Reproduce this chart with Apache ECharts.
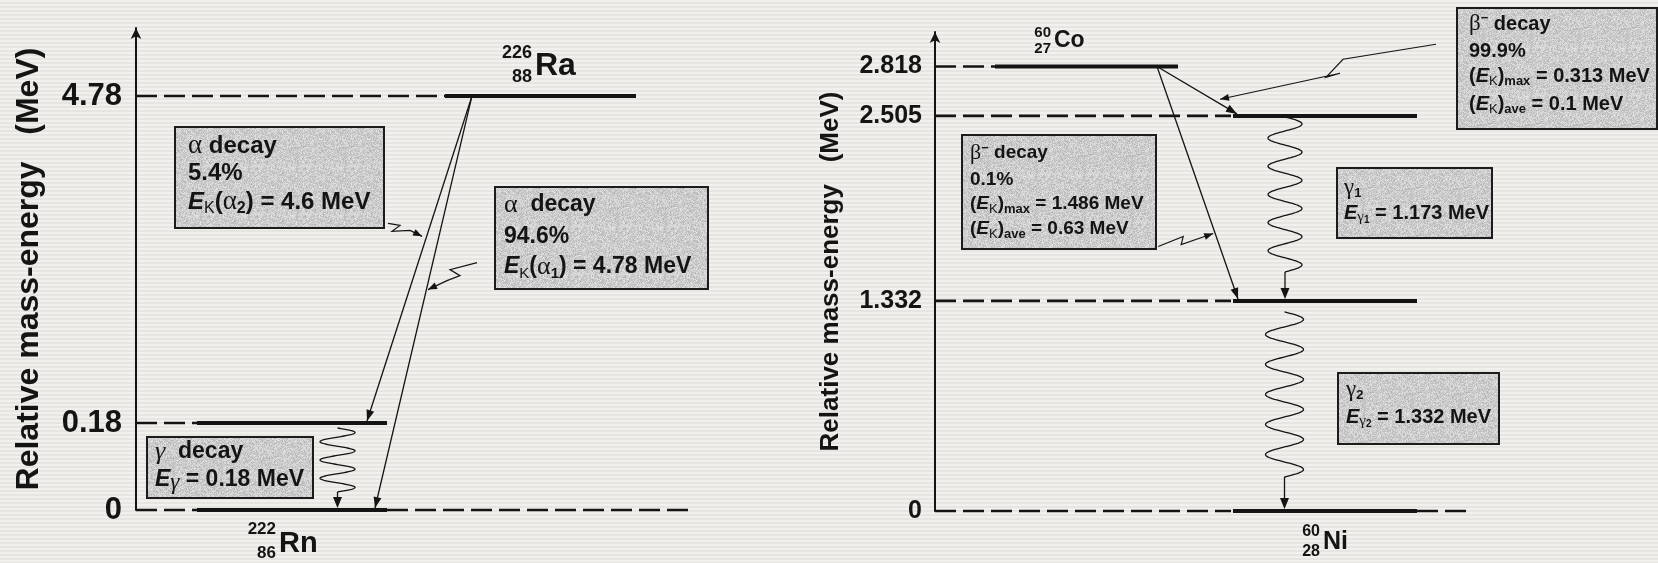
<!DOCTYPE html>
<html>
<head>
<meta charset="utf-8">
<title>Decay schemes: Ra-226 and Co-60</title>
<script src="https://cdn.jsdelivr.net/npm/echarts@6/dist/echarts.min.js"></script>
<style>
  html, body { margin: 0; padding: 0; }
  body {
    width: 1658px; height: 563px; overflow: hidden;
    background-color: #eeece8;
    background-image: repeating-linear-gradient(to bottom, #f2f0ec 0px, #f2f0ec 2px, #e7e5e1 2px, #e7e5e1 4px);
  }
  #chart { width: 1658px; height: 563px; }
</style>
</head>
<body>
<div id="chart"></div>
<script>
// ---- Ra-226 -> Rn-222 (alpha decay) ----
const raLevelEnergies = [4.78, 0.18, 0];      // MeV: Ra-226 ground, Rn-222 excited, Rn-222 ground
const raTickLabels    = ['4.78', '0.18', '0'];
const raTransFrom     = [0, 0, 1];             // level index: alpha2, alpha1, gamma
const raTransTo       = [1, 2, 2];
const raAlphaBranches = ['5.4%', '94.6%'];     // alpha2, alpha1
const raAlphaEnergies = [4.6, 4.78];           // E_K(alpha2), E_K(alpha1), MeV

// ---- Co-60 -> Ni-60 (beta-minus decay) ----
const coLevelEnergies = [2.818, 2.505, 1.332, 0];
const coTickLabels    = ['2.818', '2.505', '1.332', '0'];
const coTransFrom     = [0, 0, 1, 2];          // beta (99.9%), beta (0.1%), gamma1, gamma2
const coTransTo       = [1, 2, 2, 3];
const coBetaBranches  = ['99.9%', '0.1%'];
const coBetaMax       = [0.313, 1.486];        // (E_K)max, MeV
const coBetaAve       = [0.1, 0.63];           // (E_K)ave, MeV
const coGammaEnergies = [1.173, 1.332];        // E_gamma1, E_gamma2, MeV

// Broken energy scale for the radium scheme: the span below 0.18 MeV is stretched.
const RA_BREAK = 0.18, RA_STRETCH = 6.8;
const raScale = e => (e <= RA_BREAK ? e * RA_STRETCH : RA_BREAK * RA_STRETCH + (e - RA_BREAK));
const coScale = e => e;

const SANS = "'Liberation Sans', Arial, sans-serif";
const SERIF = "'Liberation Serif', 'Times New Roman', serif";
const INK = '#141414';
const TIP_INSET = 2;

// Horizontal layout of every level (x measured in px from the energy axis)
const raLevelLayout = [
  { dashed: [[0, 309]], solid: [309, 500],
    nuclide: { sym: 'Ra', A: '226', Z: '88', x: 399, dy: -30, size: 32, small: 18, aDy: -43, zDy: -19 } },
  { dashed: [[0, 61]], solid: [61, 251] },
  { dashed: [[0, 61], [251, 554]], solid: [61, 251],
    nuclide: { sym: 'Rn', A: '222', Z: '86', x: 143, dy: 34, size: 29, small: 17, aDy: 19, zDy: 43 } }
];
const coLevelLayout = [
  { dashed: [[0, 60]], solid: [60, 243],
    nuclide: { sym: 'Co', A: '60', Z: '27', x: 119, dy: -26, size: 23, small: 15, aDy: -34, zDy: -18 } },
  { dashed: [[0, 296]], solid: [298, 482] },
  { dashed: [[0, 296]], solid: [298, 482] },
  { dashed: [[0, 296], [482, 534]], solid: [298, 482],
    nuclide: { sym: 'Ni', A: '60', Z: '28', x: 388, dy: 31, size: 25, small: 16, aDy: 21, zDy: 41 } }
];

// Transition drawing: straight decay arrows, wavy gamma lines, and callout pointers
const raTransLayout = [
  { kind: 'arrow', x0: 336, x1: 231,
    callout: { t: 0.432, dx: -4.6, dy: 0, tail: [[-34, -13], [-22, -11], [-30, -5], [-12, -6]] } },
  { kind: 'arrow', x0: 336, x1: 239,
    callout: { t: 0.47, dx: 1.6, dy: 0, tail: [[49, -27], [22, -20], [32, -14], [19, -9]] } },
  { kind: 'wave', x: 201.5, gapTop: 5, tail: 18, cycles: 3.5, amp: 17.5 }
];
const coTransLayout = [
  { kind: 'arrow', x0: 222, x1: 302,
    callout: { t: 0.7875, dx: 0, dy: -4.6, tail: [[216, -55], [123, -40], [106, -22], [120, -26]] } },
  { kind: 'arrow', x0: 222, x1: 303,
    callout: { t: 0.7186, dx: -2, dy: 0, tail: [[-55, 13], [-30, 3], [-32, 11]] } },
  { kind: 'wave', x: 350, gapTop: 1, tail: 29, cycles: 5.5, amp: 17 },
  { kind: 'wave', x: 349.5, gapTop: 11, tail: 34, cycles: 5.5, amp: 19 }
];

function arrowHead(tip, from, len, half) {
  const dx = tip[0] - from[0], dy = tip[1] - from[1];
  const d = Math.hypot(dx, dy) || 1;
  const ux = dx / d, uy = dy / d;
  const bx = tip[0] - ux * len, by = tip[1] - uy * len;
  return { type: 'polygon',
    shape: { points: [[tip[0], tip[1]], [bx - uy * half, by + ux * half], [bx + uy * half, by - ux * half]] },
    style: { fill: INK } };
}

function seg(p, q, width, dash) {
  return { type: 'line', shape: { x1: p[0], y1: p[1], x2: q[0], y2: q[1] },
    style: { stroke: INK, lineWidth: width, lineDash: dash || null, lineCap: 'butt' } };
}

function renderLevels(layout, scale) {
  return function (params, api) {
    const L = layout[params.dataIndex];
    const yv = scale(api.value(1));
    const children = [];
    L.dashed.forEach(([a, b]) => children.push(seg(api.coord([a, yv]), api.coord([b, yv]), 2.6, [21, 7])));
    children.push(seg(api.coord([L.solid[0], yv]), api.coord([L.solid[1], yv]), 4));
    if (L.nuclide) {
      const n = L.nuclide, p = api.coord([n.x, yv]);
      const font = (size) => ({ fontSize: size, fontWeight: 'bold', fontFamily: SANS, fill: INK });
      children.push({ type: 'text', x: p[0], y: p[1] + n.dy,
        style: Object.assign({ text: n.sym, align: 'left', verticalAlign: 'middle' }, font(n.size)) });
      children.push({ type: 'text', x: p[0] - 3, y: p[1] + n.aDy,
        style: Object.assign({ text: n.A, align: 'right', verticalAlign: 'middle' }, font(n.small)) });
      children.push({ type: 'text', x: p[0] - 3, y: p[1] + n.zDy,
        style: Object.assign({ text: n.Z, align: 'right', verticalAlign: 'middle' }, font(n.small)) });
    }
    return { type: 'group', children };
  };
}

function renderTransitions(layout, scale) {
  return function (params, api) {
    const L = layout[params.dataIndex];
    const yFrom = scale(api.value(0)), yTo = scale(api.value(1));
    const children = [];
    if (L.kind === 'arrow') {
      const p0 = api.coord([L.x0, yFrom]);
      const q = api.coord([L.x1, yTo]);
      const p1 = [q[0], q[1] - TIP_INSET];
      children.push(seg(p0, p1, 1.3));
      children.push(arrowHead(p1, p0, 11, 4));
      if (L.callout) {
        const c = L.callout;
        const tip = [p0[0] + (p1[0] - p0[0]) * c.t + c.dx, p0[1] + (p1[1] - p0[1]) * c.t + c.dy];
        const pts = c.tail.map(([a, b]) => [tip[0] + a, tip[1] + b]);
        pts.push(tip);
        children.push({ type: 'polyline', shape: { points: pts },
          style: { stroke: INK, lineWidth: 1.2, fill: null, lineJoin: 'miter' } });
        children.push(arrowHead(tip, pts[pts.length - 2], 9, 3.5));
      }
    } else {
      const top = api.coord([L.x, yFrom]);
      const bot = api.coord([L.x, yTo]);
      const y0 = top[1] + L.gapTop;
      const y1 = bot[1] - L.tail;
      const tipY = bot[1] - TIP_INSET;
      const pts = [];
      const n = 240;
      for (let i = 0; i <= n; i++) {
        const s = i / n;
        pts.push([top[0] + L.amp * Math.sin(2 * Math.PI * L.cycles * s), y0 + (y1 - y0) * s]);
      }
      children.push({ type: 'polyline', shape: { points: pts },
        style: { stroke: INK, lineWidth: 1.3, fill: null } });
      children.push(seg([top[0], y1], [top[0], tipY - 6], 1.3));
      children.push(arrowHead([top[0], tipY], [top[0], y1], 11, 4.5));
    }
    return { type: 'group', children };
  };
}

// Fine grey grain for the annotation boxes (deterministic hash grain)
function makeStipple() {
  const S = 48;
  const c = document.createElement('canvas');
  c.width = S; c.height = S;
  const ctx = c.getContext('2d');
  const img = ctx.createImageData(S, S);
  for (let i = 0; i < S * S; i++) {
    let h = Math.imul(i + 17, 2654435761) >>> 0;
    h ^= h >>> 15; h = Math.imul(h, 2246822519) >>> 0; h ^= h >>> 13;
    const v = 204 + (h % 24);
    img.data[i * 4] = v; img.data[i * 4 + 1] = v; img.data[i * 4 + 2] = v; img.data[i * 4 + 3] = 255;
  }
  ctx.putImageData(img, 0, 0);
  return c;
}
const stipple = { image: makeStipple(), repeat: 'repeat' };

function richSet(s) {
  const sub = Math.round(s * 0.66);
  const L = Math.round(s * 1.2);
  return {
    g:   { fontSize: s + 3, fontFamily: SERIF, fontWeight: 'normal', fill: INK },
    gi:  { fontSize: s + 3, fontFamily: SERIF, fontWeight: 'normal', fontStyle: 'italic', fill: INK },
    ei:  { fontSize: s, fontFamily: SANS, fontWeight: 'bold', fontStyle: 'italic', fill: INK },
    sk:  { fontSize: sub, fontFamily: SANS, fontWeight: 'normal', fill: INK, verticalAlign: 'bottom', lineHeight: Math.round(L * 0.4) },
    sn:  { fontSize: sub, fontFamily: SANS, fontWeight: 'bold', fill: INK, verticalAlign: 'bottom', lineHeight: Math.round(L * 0.4) },
    sm:  { fontSize: sub, fontFamily: SANS, fontWeight: 'bold', fill: INK, verticalAlign: 'bottom', lineHeight: Math.round(L * 0.3) },
    gs:  { fontSize: s, fontFamily: SERIF, fontWeight: 'normal', fontStyle: 'italic', fill: INK, verticalAlign: 'bottom', lineHeight: Math.round(L * 0.75) },
    gu:  { fontSize: sub + 2, fontFamily: SERIF, fontWeight: 'normal', fill: INK, verticalAlign: 'bottom', lineHeight: Math.round(L * 0.45) },
    ss:  { fontSize: Math.round(sub * 0.8), fontFamily: SANS, fontWeight: 'bold', fill: INK, verticalAlign: 'bottom', lineHeight: Math.round(L * 0.2) },
    sup: { fontSize: sub, fontFamily: SANS, fontWeight: 'bold', fill: INK, verticalAlign: 'top', lineHeight: Math.round(L * 0.35) }
  };
}

const raGammaEnergy = +(raLevelEnergies[1] - raLevelEnergies[2]).toFixed(3);

// Annotation boxes: frame, text size and the centre line of every text row
const boxes = [
  { x: 175, y: 127, w: 209, h: 101, size: 24, tx: 188, lines: [
    [146, '{g|α} decay'],
    [173, raAlphaBranches[0]],
    [202, `{ei|E}{sk|K}({g|α}{sn|2}) = ${raAlphaEnergies[0]} MeV`]] },
  { x: 495, y: 187, w: 213, h: 102, size: 23, tx: 504, lines: [
    [205, '{g|α}  decay'],
    [237, raAlphaBranches[1]],
    [267, `{ei|E}{sk|K}({g|α}{sn|1}) = ${raAlphaEnergies[1]} MeV`]] },
  { x: 147, y: 437, w: 166, h: 61, size: 23, tx: 155, lines: [
    [452, '{gi|γ}  decay'],
    [480, `{ei|E}{gs|γ} = ${raGammaEnergy} MeV`]] },
  { x: 962, y: 135, w: 194, h: 114, size: 19, tx: 970, lines: [
    [153, '{g|β}{sup|−} decay'],
    [180, coBetaBranches[1]],
    [204, `({ei|E}{sk|K}){sm|max} = ${coBetaMax[1]} MeV`],
    [229, `({ei|E}{sk|K}){sm|ave} = ${coBetaAve[1]} MeV`]] },
  { x: 1457, y: 8, w: 200, h: 121, size: 20, tx: 1469, lines: [
    [24, '{g|β}{sup|−} decay'],
    [51, coBetaBranches[0]],
    [76, `({ei|E}{sk|K}){sm|max} = ${coBetaMax[0]} MeV`],
    [104, `({ei|E}{sk|K}){sm|ave} = ${coBetaAve[0]} MeV`]] },
  { x: 1337, y: 168, w: 155, h: 70, size: 20, tx: 1344, lines: [
    [188, '{g|γ}{sn|1}'],
    [213, `{ei|E}{gu|γ}{ss|1} = ${coGammaEnergies[0]} MeV`]] },
  { x: 1338, y: 373, w: 161, h: 71, size: 20, tx: 1346, lines: [
    [390, '{g|γ}{sn|2}'],
    [417, `{ei|E}{gu|γ}{ss|2} = ${coGammaEnergies[1]} MeV`]] }
];

function makeBox(b) {
  const children = [{ type: 'rect', shape: { x: 0, y: 0, width: b.w, height: b.h },
    style: { fill: stipple, stroke: '#1c1c1c', lineWidth: 2 } }];
  b.lines.forEach(([cy, text]) => {
    children.push({ type: 'text', x: b.tx - b.x, y: cy - b.y,
      style: { text, rich: richSet(b.size), align: 'left', verticalAlign: 'middle',
        lineHeight: Math.round(b.size * 1.2), fontSize: b.size, fontWeight: 'bold', fontFamily: SANS, fill: INK } });
  });
  return { type: 'group', x: b.x, y: b.y, children };
}

function tickLookup(levels, labels, scale) {
  return function (v) {
    for (let i = 0; i < levels.length; i++) {
      if (Math.abs(scale(levels[i]) - v) < 1e-6) return labels[i];
    }
    return '';
  };
}

function energyAxis(gridIndex, max, levels, labels, scale, labelSize, margin, nameSize, nameGap) {
  return {
    type: 'value', gridIndex, min: 0, max, position: 'left',
    axisLine: { show: true, onZero: false, symbol: ['none', 'arrow'], symbolSize: [8, 11],
      lineStyle: { color: INK, width: 2 } },
    axisTick: { show: false },
    splitLine: { show: false },
    axisLabel: {
      customValues: levels.map(scale),
      formatter: tickLookup(levels, labels, scale),
      fontSize: labelSize, fontWeight: 'bold', fontFamily: SANS, color: INK, margin
    },
    name: 'Relative mass-energy   (MeV)',
    nameLocation: 'middle',
    nameGap,
    nameTextStyle: { fontSize: nameSize, fontWeight: 'bold', fontFamily: SANS, color: INK }
  };
}

const chart = echarts.init(document.getElementById('chart'), null, { renderer: 'canvas' });
chart.setOption({
  animation: false,
  backgroundColor: 'transparent',
  grid: [
    { left: 136, top: 28, width: 560, height: 482 },
    { left: 935, top: 32, width: 540, height: 479 }
  ],
  xAxis: [
    { type: 'value', gridIndex: 0, min: 0, max: 560, show: false },
    { type: 'value', gridIndex: 1, min: 0, max: 540, show: false }
  ],
  yAxis: [
    energyAxis(0, 6.78, raLevelEnergies, raTickLabels, raScale, 31, 14, 32, 91),
    energyAxis(1, 3.037, coLevelEnergies, coTickLabels, coScale, 25, 13, 26, 91)
  ],
  series: [
    { type: 'custom', name: 'Ra-226 levels', xAxisIndex: 0, yAxisIndex: 0, clip: false, silent: true,
      data: raLevelEnergies.map(e => [0, e]), renderItem: renderLevels(raLevelLayout, raScale) },
    { type: 'custom', name: 'Ra-226 transitions', xAxisIndex: 0, yAxisIndex: 0, clip: false, silent: true,
      data: raTransFrom.map((f, i) => [raLevelEnergies[f], raLevelEnergies[raTransTo[i]]]),
      renderItem: renderTransitions(raTransLayout, raScale) },
    { type: 'custom', name: 'Co-60 levels', xAxisIndex: 1, yAxisIndex: 1, clip: false, silent: true,
      data: coLevelEnergies.map(e => [0, e]), renderItem: renderLevels(coLevelLayout, coScale) },
    { type: 'custom', name: 'Co-60 transitions', xAxisIndex: 1, yAxisIndex: 1, clip: false, silent: true,
      data: coTransFrom.map((f, i) => [coLevelEnergies[f], coLevelEnergies[coTransTo[i]]]),
      renderItem: renderTransitions(coTransLayout, coScale) }
  ],
  graphic: { elements: boxes.map(makeBox) }
});
</script>
</body>
</html>
